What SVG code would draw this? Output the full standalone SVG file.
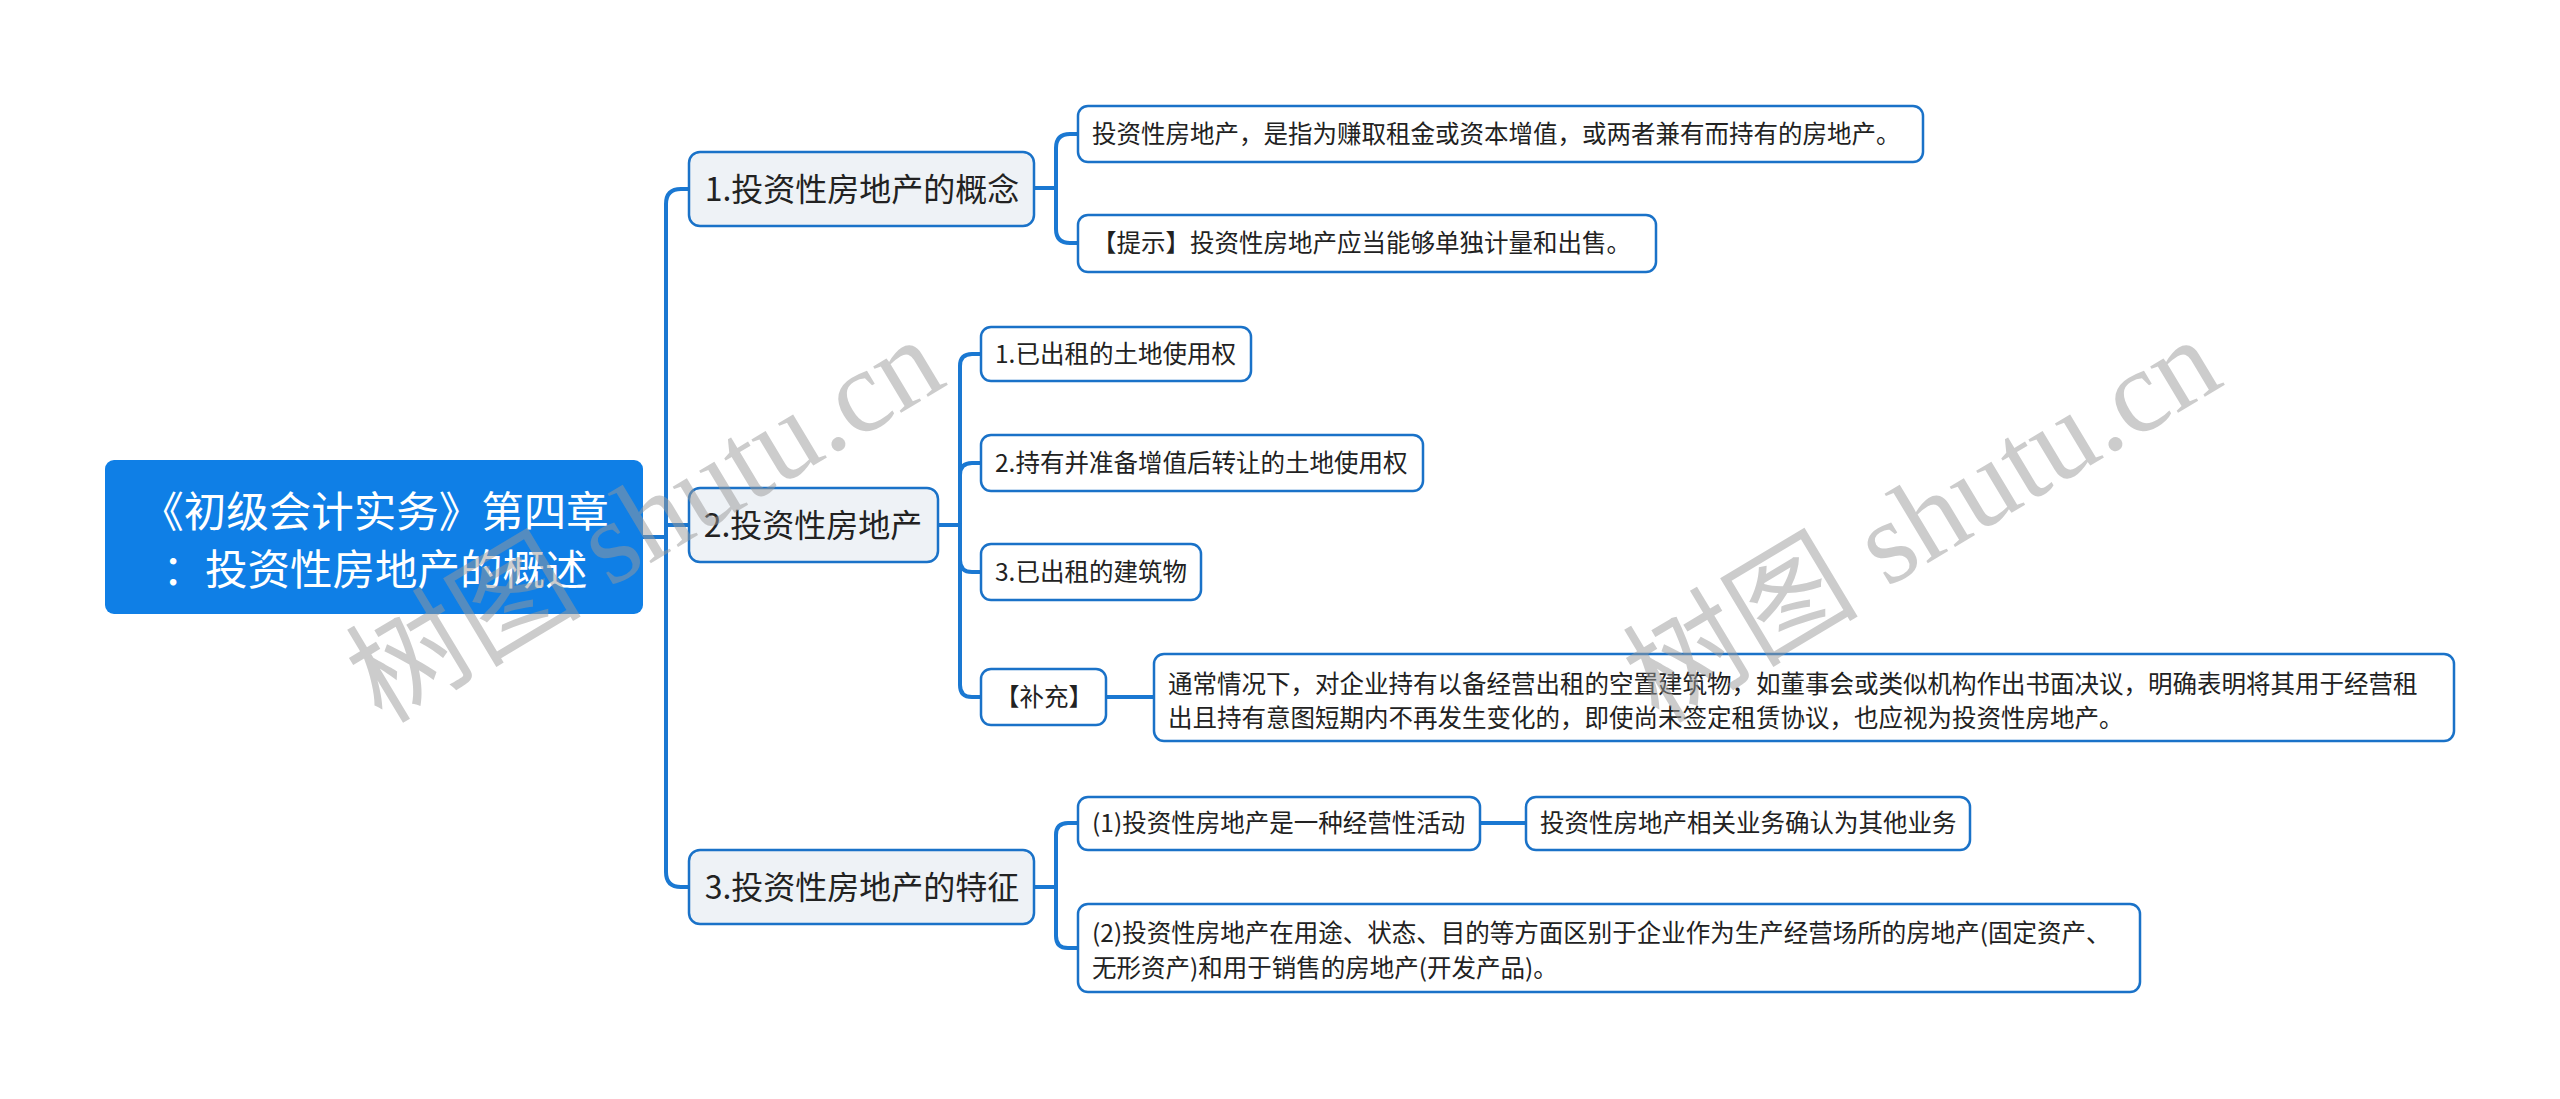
<svg xmlns="http://www.w3.org/2000/svg" width="2560" height="1099" viewBox="0 0 2560 1099">
<style>
.bg{fill:#ffffff}
.conn{fill:none;stroke:#1a78d2;stroke-width:4;stroke-linecap:round;stroke-linejoin:round}
.root rect{fill:#0f7fe6;stroke:none}
.root text{fill:#ffffff;font-size:42.5px;text-anchor:middle}
.l1 rect{fill:#eef2f6;stroke:#1a72c8;stroke-width:2.5}
.l1 text{fill:#222222;font-size:32px;text-anchor:middle}
.l2 rect{fill:#ffffff;stroke:#1a72c8;stroke-width:2.5}
.l2 text{fill:#222222;font-size:24.5px}
text{font-family:"Noto Sans CJK SC","Noto Sans",sans-serif}
.wm{fill:#9a9a9a;opacity:0.5;font-size:118px;text-anchor:middle;font-family:"Liberation Serif","Noto Sans CJK SC",serif}
</style>
<rect class="bg" x="0" y="0" width="2560" height="1099"/>

<g id="connectors">
  <path class="conn" d="M643 537 H666 V204 Q666 189 681 189 H689"/>
  <path class="conn" d="M643 537 H666 V525 H689"/>
  <path class="conn" d="M643 537 H666 V872 Q666 887 681 887 H689"/>
  <path class="conn" d="M1034 188 H1056 V148 Q1056 134 1070 134 H1078"/>
  <path class="conn" d="M1034 188 H1056 V229 Q1056 243 1070 243 H1078"/>
  <path class="conn" d="M938 525 H960 V366 Q960 354 972 354 H981"/>
  <path class="conn" d="M938 525 H960 V475 Q960 463 972 463 H981"/>
  <path class="conn" d="M938 525 H960 V560 Q960 572 972 572 H981"/>
  <path class="conn" d="M938 525 H960 V685 Q960 697 972 697 H981"/>
  <path class="conn" d="M1106 697 H1154"/>
  <path class="conn" d="M1034 887 H1056 V835 Q1056 823 1068 823 H1078"/>
  <path class="conn" d="M1034 887 H1056 V936 Q1056 948 1068 948 H1078"/>
  <path class="conn" d="M1480 823 H1526"/>
</g>

<g id="root" class="root">
  <rect x="105" y="460" width="538" height="154" rx="9"/>
  <text x="375" y="527">《初级会计实务》第四章</text>
  <text x="375" y="585">：投资性房地产的概述</text>
</g>

<g id="n1" class="l1">
  <rect x="689" y="152" width="345" height="74" rx="11"/>
  <text x="862" y="201">1.投资性房地产的概念</text>
</g>
<g id="n1a" class="l2">
  <rect x="1078" y="106" width="845" height="56" rx="10"/>
  <text x="1092" y="143">投资性房地产，是指为赚取租金或资本增值，或两者兼有而持有的房地产。</text>
</g>
<g id="n1b" class="l2">
  <rect x="1078" y="215" width="578" height="57" rx="10"/>
  <text x="1092" y="252">【提示】投资性房地产应当能够单独计量和出售。</text>
</g>

<g id="n2" class="l1">
  <rect x="689" y="488" width="249" height="74" rx="11"/>
  <text x="813" y="537">2.投资性房地产</text>
</g>
<g id="n2a" class="l2">
  <rect x="981" y="327" width="270" height="54" rx="10"/>
  <text x="995" y="363">1.已出租的土地使用权</text>
</g>
<g id="n2b" class="l2">
  <rect x="981" y="435" width="442" height="56" rx="10"/>
  <text x="995" y="472">2.持有并准备增值后转让的土地使用权</text>
</g>
<g id="n2c" class="l2">
  <rect x="981" y="544" width="220" height="56" rx="10"/>
  <text x="995" y="581">3.已出租的建筑物</text>
</g>
<g id="n2d" class="l2">
  <rect x="981" y="669" width="125" height="56" rx="10"/>
  <text x="995" y="706">【补充】</text>
</g>
<g id="n2d1" class="l2">
  <rect x="1154" y="654" width="1300" height="87" rx="10"/>
  <text x="1168" y="693">通常情况下，对企业持有以备经营出租的空置建筑物，如董事会或类似机构作出书面决议，明确表明将其用于经营租</text>
  <text x="1168" y="727">出且持有意图短期内不再发生变化的，即使尚未签定租赁协议，也应视为投资性房地产。</text>
</g>

<g id="n3" class="l1">
  <rect x="689" y="850" width="345" height="74" rx="11"/>
  <text x="862" y="899">3.投资性房地产的特征</text>
</g>
<g id="n3a" class="l2">
  <rect x="1078" y="797" width="402" height="53" rx="10"/>
  <text x="1092" y="832">(1)投资性房地产是一种经营性活动</text>
</g>
<g id="n3a1" class="l2">
  <rect x="1526" y="797" width="444" height="53" rx="10"/>
  <text x="1540" y="832">投资性房地产相关业务确认为其他业务</text>
</g>
<g id="n3b" class="l2">
  <rect x="1078" y="904" width="1062" height="88" rx="10"/>
  <text x="1092" y="942">(2)投资性房地产在用途、状态、目的等方面区别于企业作为生产经营场所的房地产(固定资产、</text>
  <text x="1092" y="977">无形资产)和用于销售的房地产(开发产品)。</text>
</g>

<g id="watermark">
  <text class="wm" transform="translate(645,520) rotate(-31)" x="0" y="40">树图 shutu.cn</text>
  <text class="wm" transform="translate(1922,520) rotate(-31)" x="0" y="40">树图 shutu.cn</text>
</g>
</svg>
